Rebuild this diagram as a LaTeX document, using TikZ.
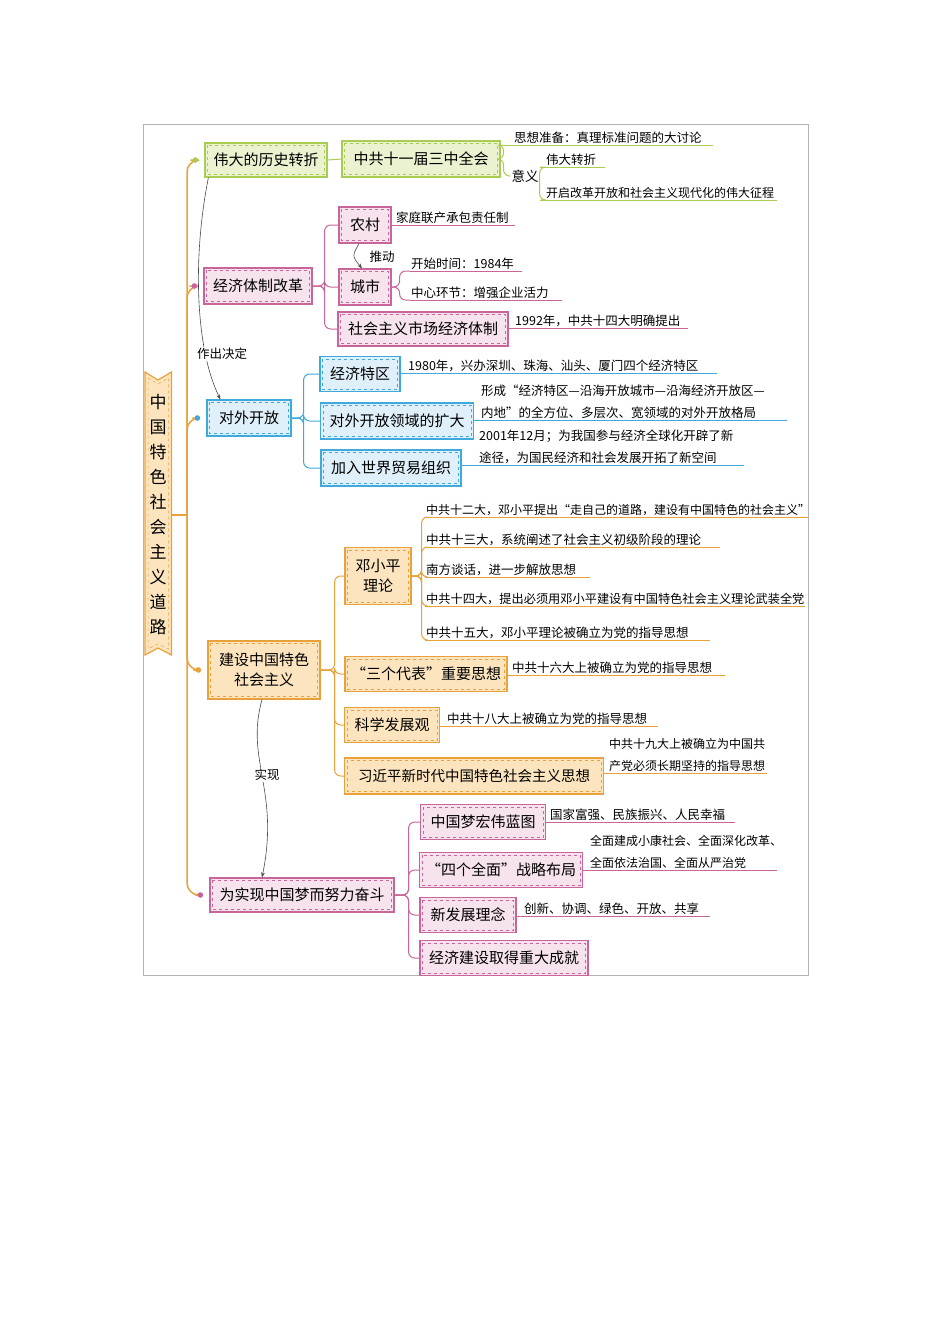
\documentclass[tikz,border=0pt]{standalone}
\usepackage{fontspec}
\setmainfont{Noto Sans CJK SC}
\usetikzlibrary{arrows.meta}
\definecolor{gL}{HTML}{A9CC55}\definecolor{gF}{HTML}{EAF2CF}
\definecolor{pL}{HTML}{C8669A}\definecolor{pF}{HTML}{F7E3EE}
\definecolor{bL}{HTML}{3FA9DC}\definecolor{bF}{HTML}{DFF0FA}
\definecolor{oL}{HTML}{E9A23B}\definecolor{oF}{HTML}{FCE5BE}
\definecolor{arr}{HTML}{4A4A4A}
\newcommand\fs[1]{\fontsize{#1}{22}\selectfont}
\newcommand\fb[1]{\fontsize{#1}{20}\selectfont}
\tikzset{
 box/.style={draw=#1L,fill=#1F,line width=1.2pt,inner sep=0pt,align=center,font=\fb{15}},
 leaf/.style={inner sep=1pt,align=left,font=\fs{12.5}},
 conn/.style={draw=#1L,line width=1pt,rounded corners=6pt},
 arrowline/.style={draw=arr,line width=0.6pt,-{Stealth[length=5pt]}},
 lbl/.style={font=\fs{12.5},inner sep=1pt}
}
\newcommand\lf[7][]{\node[leaf,text width=#6-2pt,anchor=south west,#1] (#2) at (#4,#5) {#7};
 \draw[#3L,line width=1pt] (#2.south west) -- (#2.south east);}
\begin{document}
\begin{tikzpicture}[x=1pt,y=-1pt]
\useasboundingbox[fill=white] (0,0) rectangle (950,1344);
\draw[gray!60,line width=0.6pt] (143,124) rectangle (808,975);
% root
\filldraw[draw=oL,fill=oF,line width=1.2pt] (145,372) -- (158,380) -- (171.5,372) -- (171.5,655) -- (158,648) -- (145,655) -- cycle;
\draw[oL,dashed,line width=0.5pt] (148,378) -- (158,384) -- (168.5,378) -- (168.5,649) -- (158,644) -- (148,649) -- cycle;
\node[inner sep=0pt,minimum width=27,minimum height=283,align=center,font={\fontsize{17}{25}\selectfont}] (root) at (158,515)
 {中\\国\\特\\色\\社\\会\\主\\义\\道\\路};
% level 1
\node[box=g,minimum width=122,minimum height=34] (A) at (266,160) {伟大的历史转折};
\node[box=p,minimum width=108,minimum height=36] (B) at (258,286) {经济体制改革};
\node[box=b,minimum width=84,minimum height=36] (C) at (249,418) {对外开放};
\node[box=o,minimum width=112,minimum height=58] (D) at (264,670) {建设中国特色\\社会主义};
\node[box=p,minimum width=184,minimum height=34] (E) at (302,895) {为实现中国梦而努力奋斗};
% level 2
\node[box=g,minimum width=158,minimum height=36] (A1) at (421,159) {中共十一届三中全会};
\node[box=p,minimum width=52,minimum height=36] (B1) at (365,225) {农村};
\node[box=p,minimum width=52,minimum height=36] (B2) at (365,287) {城市};
\node[box=p,minimum width=170,minimum height=34] (B3) at (423,329) {社会主义市场经济体制};
\node[box=b,minimum width=80,minimum height=35] (C1) at (360,374) {经济特区};
\node[box=b,minimum width=153,minimum height=36] (C2) at (397,421) {对外开放领域的扩大};
\node[box=b,minimum width=140,minimum height=36] (C3) at (391,468) {加入世界贸易组织};
\node[box=o,minimum width=66,minimum height=57] (D1) at (378,576) {邓小平\\理论};
\node[box=o,minimum width=162,minimum height=35] (D2) at (426,674) {“三个代表”重要思想};
\node[box=o,minimum width=95,minimum height=35] (D3) at (392,725) {科学发展观};
\node[box=o,minimum width=259,minimum height=36,font=\fb{14.5}] (D4) at (474,776) {习近平新时代中国特色社会主义思想};
\node[box=p,minimum width=125,minimum height=35] (E1) at (483,822) {中国梦宏伟蓝图};
\node[box=p,minimum width=163,minimum height=35] (E2) at (501,870) {“四个全面”战略布局};
\node[box=p,minimum width=96,minimum height=35] (E3) at (468,915) {新发展理念};
\node[box=p,minimum width=168,minimum height=35] (E4) at (504,958) {经济建设取得重大成就};
\foreach \n/\c in {A/g,B/p,C/b,D/o,E/p,A1/g,B1/p,B2/p,B3/p,C1/b,C2/b,C3/b,D1/o,D2/o,D3/o,D4/o,E1/p,E2/p,E3/p,E4/p}
 \draw[\c L,dashed,line width=0.5pt] ([shift={(3pt,-3pt)}]\n.north west) rectangle ([shift={(-3pt,3pt)}]\n.south east);
% trunk
\draw[oL,line width=1.5pt] (root.east) -- (187,515);
\foreach \n/\c in {A/g,B/p,C/b,D/o,E/p}{
 \draw[oL,line width=1.5pt,rounded corners=12pt] (187,515) |- ([xshift=-14pt]\n.west);
 \fill[\c L] ([xshift=-9pt]\n.west) circle (2.8pt);}
% level1 -> level2
\draw[conn=g] (A.east) -- (A1.west);
\foreach \c in {B1,B2,B3} \draw[conn=p] (B.east) -- ++(12,0) |- (\c.west);
\foreach \c in {C1,C2,C3} \draw[conn=b] (C.east) -- ++(12,0) |- (\c.west);
\foreach \c in {D1,D2,D3,D4} \draw[conn=o] (D.east) -- ++(14,0) |- (\c.west);
\foreach \c in {E1,E2,E3,E4} \draw[conn=p] (E.east) -- ++(14,0) |- (\c.west);
% green leaves
\lf{a1}{g}{503}{145}{210}{\hspace*{10pt}思想准备：真理标准问题的大讨论}
\node[lbl,font=\fs{13.5}] (yy) at (525,176) {意义};
\lf{a2}{g}{540}{167}{65}{\hspace*{5pt}伟大转折}
\lf[font=\fs{12}]{a3}{g}{540}{200}{237}{\hspace*{5pt}开启改革开放和社会主义现代化的伟大征程}
\draw[conn=g] (A1.east) -- ++(3,0) |- (a1.south west);
\draw[conn=g] (A1.east) -- ++(3,0) |- (yy.west);
\draw[conn=g] (yy.east) |- (a2.south west);
\draw[conn=g] (yy.east) |- (a3.south west);
% pink leaves
\lf{b1}{p}{391}{225}{124}{\hspace*{4pt}家庭联产承包责任制}
\lf{b2}{p}{410}{271}{112}{开始时间：1984年}
\lf{b3}{p}{410}{300}{152}{中心环节：增强企业活力}
\lf{b4}{p}{508}{328}{180}{\hspace*{6pt}1992年，中共十四大明确提出}
\draw[conn=p] (B2.east) -- ++(8,0) |- (b2.south west);
\draw[conn=p] (B2.east) -- ++(8,0) |- (b3.south west);
% blue leaves
\lf{c1}{b}{400}{373}{317}{\hspace*{7pt}1980年，兴办深圳、珠海、汕头、厦门四个经济特区}
\lf{c2}{b}{474}{420}{313}{\hspace*{6pt}形成“经济特区—沿海开放城市—沿海经济开放区—\\\hspace*{6pt}内地”的全方位、多层次、宽领域的对外开放格局}
\lf{c3}{b}{461}{465}{283}{\hspace*{17pt}2001年12月；为我国参与经济全球化开辟了新\\\hspace*{17pt}途径，为国民经济和社会发展开拓了新空间}
% orange leaves
\lf[font=\fs{12}]{d1}{o}{425}{517}{383}{中共十二大，邓小平提出“走自己的道路，建设有中国特色的社会主义”}
\lf{d2}{o}{425}{547}{295}{中共十三大，系统阐述了社会主义初级阶段的理论}
\lf{d3}{o}{425}{577}{165}{南方谈话，进一步解放思想}
\lf[font=\fs{12.2}]{d4}{o}{425}{606}{380}{中共十四大，提出必须用邓小平建设有中国特色社会主义理论武装全党}
\lf{d5}{o}{425}{640}{285}{中共十五大，邓小平理论被确立为党的指导思想}
\foreach \c in {d1,d2,d3,d4,d5} \draw[conn=o] (D1.east) -- ++(10,0) |- (\c.south west);
\lf{d6}{o}{507}{675}{218}{\hspace*{4pt}中共十六大上被确立为党的指导思想}
\lf{d7}{o}{440}{726}{218}{\hspace*{6pt}中共十八大上被确立为党的指导思想}
\lf[font=\fs{12}]{d8}{o}{604}{773}{163}{\hspace*{4pt}中共十九大上被确立为中国共\\\hspace*{4pt}产党必须长期坚持的指导思想}
% pink lower leaves
\lf{e1}{p}{545}{822}{190}{\hspace*{4pt}国家富强、民族振兴、人民幸福}
\lf[font=\fs{12}]{e2}{p}{583}{870}{194}{\hspace*{6pt}全面建成小康社会、全面深化改革、\\\hspace*{6pt}全面依法治国、全面从严治党}
\lf{e3}{p}{516}{916}{194}{\hspace*{7pt}创新、协调、绿色、开放、共享}
% arrows
\draw[arrowline] ([xshift=4pt]A.south west) .. controls (192,260) and (196,350) .. ([xshift=14pt]C.north west);
\node[lbl,fill=white] (k1) at (222,354) {作出决定};
\draw[arrowline] ([xshift=-6pt]B1.south) .. controls (352,256) .. ([xshift=-3pt]B2.north);
\node[lbl] (k2) at (382,257) {推动};
\draw[arrowline] ([xshift=-2pt]D.south) .. controls (245,760) and (280,790) .. ([xshift=-40pt]E.north);
\node[lbl,fill=white] (k3) at (267,775) {实现};
\end{tikzpicture}
\end{document}
